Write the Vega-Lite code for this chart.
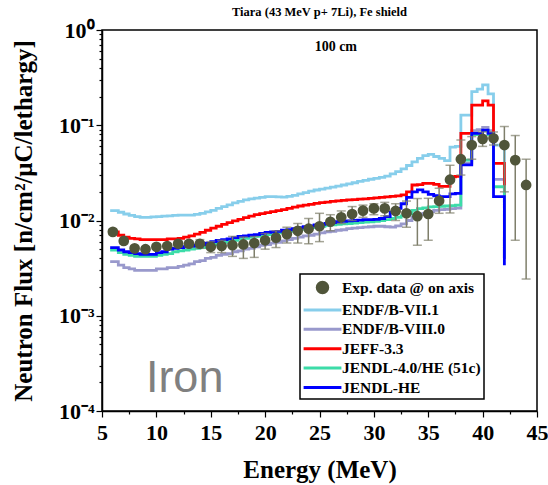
{
 "$schema": "https://vega.github.io/schema/vega-lite/v6.json",
 "width": 435, "height": 381,
 "autosize": {"type": "none"},
 "padding": {"left": 102, "top": 30, "right": 11, "bottom": 74},
 "background": "white",
 "title": {"text": "Tiara (43 MeV p+ 7Li), Fe shield", "font": "Liberation Serif", "fontSize": 12.5, "fontWeight": "bold", "color": "black", "anchor": "middle", "offset": 1},
 "config": {
  "view": {"stroke": "black", "strokeWidth": 1.5},
  "axis": {"domainColor": "black", "domainWidth": 1.5, "tickColor": "black", "tickWidth": 1.2, "labelFont": "Liberation Serif", "labelFontWeight": "bold", "labelFontSize": 22, "labelColor": "black", "titleFont": "Liberation Serif", "titleFontWeight": "bold", "titleFontSize": 25, "titleColor": "black", "grid": false}
 },
 "datasets": {
  "curves": [
   {"E":5.75,"lb":0.0127,"lv":0.0037,"rd":0.0076,"tl":0.0049,"bl":0.0052},
   {"E":6.5,"lb":0.0122,"lv":0.0034,"rd":0.0070,"tl":0.0046,"bl":0.0049},
   {"E":7,"lb":0.0117,"lv":0.0032,"rd":0.0067,"tl":0.0044,"bl":0.0047},
   {"E":7.5,"lb":0.0113,"lv":0.0031,"rd":0.0065,"tl":0.0043,"bl":0.0046},
   {"E":8,"lb":0.0110,"lv":0.0030,"rd":0.0064,"tl":0.0042,"bl":0.0045},
   {"E":8.5,"lb":0.0108,"lv":0.0030,"rd":0.0063,"tl":0.0042,"bl":0.0044},
   {"E":9,"lb":0.0108,"lv":0.0030,"rd":0.0063,"tl":0.0042,"bl":0.0044},
   {"E":9.5,"lb":0.0109,"lv":0.0030,"rd":0.0063,"tl":0.0042,"bl":0.0044},
   {"E":10,"lb":0.0110,"lv":0.0031,"rd":0.0063,"tl":0.0043,"bl":0.0046},
   {"E":10.5,"lb":0.0111,"lv":0.0031,"rd":0.0063,"tl":0.0044,"bl":0.0047},
   {"E":11,"lb":0.0112,"lv":0.0032,"rd":0.0064,"tl":0.0045,"bl":0.0050},
   {"E":11.5,"lb":0.0113,"lv":0.0032,"rd":0.0064,"tl":0.0047,"bl":0.0051},
   {"E":12,"lb":0.0114,"lv":0.0033,"rd":0.0065,"tl":0.0048,"bl":0.0052},
   {"E":12.5,"lb":0.0114,"lv":0.0034,"rd":0.0067,"tl":0.0049,"bl":0.0053},
   {"E":13,"lb":0.0114,"lv":0.0035,"rd":0.0069,"tl":0.0050,"bl":0.0054},
   {"E":13.5,"lb":0.0116,"lv":0.0037,"rd":0.0072,"tl":0.0051,"bl":0.0055},
   {"E":14,"lb":0.0119,"lv":0.0038,"rd":0.0075,"tl":0.0052,"bl":0.0056},
   {"E":14.5,"lb":0.0123,"lv":0.0040,"rd":0.0079,"tl":0.0054,"bl":0.0058},
   {"E":15,"lb":0.0128,"lv":0.0041,"rd":0.0083,"tl":0.0056,"bl":0.0060},
   {"E":15.5,"lb":0.0134,"lv":0.0043,"rd":0.0087,"tl":0.0058,"bl":0.0062},
   {"E":16,"lb":0.0140,"lv":0.0044,"rd":0.0091,"tl":0.0059,"bl":0.0063},
   {"E":16.5,"lb":0.0146,"lv":0.0045,"rd":0.0095,"tl":0.0061,"bl":0.0064},
   {"E":17,"lb":0.0153,"lv":0.0047,"rd":0.0099,"tl":0.0062,"bl":0.0066},
   {"E":17.5,"lb":0.0159,"lv":0.0048,"rd":0.0103,"tl":0.0064,"bl":0.0068},
   {"E":18,"lb":0.0165,"lv":0.0050,"rd":0.0107,"tl":0.0065,"bl":0.0069},
   {"E":18.5,"lb":0.0169,"lv":0.0051,"rd":0.0111,"tl":0.0067,"bl":0.0070},
   {"E":19,"lb":0.0172,"lv":0.0053,"rd":0.0115,"tl":0.0068,"bl":0.0071},
   {"E":19.5,"lb":0.0175,"lv":0.0055,"rd":0.0118,"tl":0.0070,"bl":0.0073},
   {"E":20,"lb":0.0178,"lv":0.0056,"rd":0.0121,"tl":0.0071,"bl":0.0075},
   {"E":20.5,"lb":0.0178,"lv":0.0058,"rd":0.0124,"tl":0.0072,"bl":0.0076},
   {"E":21,"lb":0.0177,"lv":0.0059,"rd":0.0127,"tl":0.0074,"bl":0.0077},
   {"E":21.5,"lb":0.0176,"lv":0.0061,"rd":0.0130,"tl":0.0075,"bl":0.0079},
   {"E":22,"lb":0.0179,"lv":0.0063,"rd":0.0134,"tl":0.0077,"bl":0.0080},
   {"E":22.5,"lb":0.0184,"lv":0.0065,"rd":0.0138,"tl":0.0079,"bl":0.0082},
   {"E":23,"lb":0.0190,"lv":0.0067,"rd":0.0142,"tl":0.0081,"bl":0.0084},
   {"E":23.5,"lb":0.0196,"lv":0.0069,"rd":0.0145,"tl":0.0083,"bl":0.0086},
   {"E":24,"lb":0.0203,"lv":0.0070,"rd":0.0148,"tl":0.0084,"bl":0.0088},
   {"E":24.5,"lb":0.0209,"lv":0.0072,"rd":0.0151,"tl":0.0086,"bl":0.0090},
   {"E":25,"lb":0.0214,"lv":0.0074,"rd":0.0154,"tl":0.0087,"bl":0.0091},
   {"E":25.5,"lb":0.0219,"lv":0.0076,"rd":0.0156,"tl":0.0089,"bl":0.0093},
   {"E":26,"lb":0.0224,"lv":0.0077,"rd":0.0159,"tl":0.0090,"bl":0.0095},
   {"E":26.5,"lb":0.0230,"lv":0.0079,"rd":0.0161,"tl":0.0091,"bl":0.0097},
   {"E":27,"lb":0.0236,"lv":0.0080,"rd":0.0163,"tl":0.0092,"bl":0.0098},
   {"E":27.5,"lb":0.0242,"lv":0.0082,"rd":0.0165,"tl":0.0093,"bl":0.0099},
   {"E":28,"lb":0.0249,"lv":0.0083,"rd":0.0166,"tl":0.0094,"bl":0.0100},
   {"E":28.5,"lb":0.0257,"lv":0.0084,"rd":0.0168,"tl":0.0095,"bl":0.0101},
   {"E":29,"lb":0.0264,"lv":0.0085,"rd":0.0169,"tl":0.0096,"bl":0.0102},
   {"E":29.5,"lb":0.0271,"lv":0.0086,"rd":0.0171,"tl":0.0097,"bl":0.0102},
   {"E":30,"lb":0.0277,"lv":0.0087,"rd":0.0173,"tl":0.0098,"bl":0.0103},
   {"E":30.5,"lb":0.0283,"lv":0.0087,"rd":0.0175,"tl":0.0100,"bl":0.0105},
   {"E":31,"lb":0.0292,"lv":0.0086,"rd":0.0177,"tl":0.0102,"bl":0.0110},
   {"E":31.5,"lb":0.0308,"lv":0.0085,"rd":0.0179,"tl":0.0105,"bl":0.0122},
   {"E":32,"lb":0.0326,"lv":0.0088,"rd":0.0181,"tl":0.0108,"bl":0.0134},
   {"E":32.5,"lb":0.0348,"lv":0.0092,"rd":0.0186,"tl":0.0112,"bl":0.0150},
   {"E":33,"lb":0.0378,"lv":0.0100,"rd":0.0200,"tl":0.0117,"bl":0.0175},
   {"E":33.5,"lb":0.0412,"lv":0.0108,"rd":0.0236,"tl":0.0128,"bl":0.0200},
   {"E":34,"lb":0.0448,"lv":0.0115,"rd":0.0238,"tl":0.0133,"bl":0.0210},
   {"E":34.5,"lb":0.0480,"lv":0.0119,"rd":0.0245,"tl":0.0136,"bl":0.0200},
   {"E":35,"lb":0.0495,"lv":0.0124,"rd":0.0245,"tl":0.0139,"bl":0.0188},
   {"E":35.5,"lb":0.0470,"lv":0.0128,"rd":0.0240,"tl":0.0140,"bl":0.0182},
   {"E":36,"lb":0.0450,"lv":0.0130,"rd":0.0228,"tl":0.0141,"bl":0.0178},
   {"E":36.5,"lb":0.0425,"lv":0.0131,"rd":0.0228,"tl":0.0142,"bl":0.0178},
   {"E":37,"lb":0.0590,"lv":0.0133,"rd":0.0288,"tl":0.0143,"bl":0.0190},
   {"E":37.5,"lb":0.0600,"lv":0.0135,"rd":0.0290,"tl":0.0145,"bl":0.0193},
   {"E":38,"lb":0.128,"lv":0.040,"rd":0.082,"tl":0.043,"bl":0.0383},
   {"E":38.5,"lb":0.128,"lv":0.040,"rd":0.082,"tl":0.043,"bl":0.0383},
   {"E":39,"lb":0.225,"lv":0.088,"rd":0.163,"tl":0.080,"bl":0.082},
   {"E":39.5,"lb":0.240,"lv":0.090,"rd":0.163,"tl":0.080,"bl":0.082},
   {"E":40,"lb":0.265,"lv":0.095,"rd":0.180,"tl":0.088,"bl":0.089},
   {"E":40.5,"lb":0.213,"lv":0.088,"rd":0.163,"tl":0.080,"bl":0.082},
   {"E":41,"lb":0.062,"lv":0.027,"rd":0.0398,"tl":0.0226,"bl":0.0178},
   {"E":41.5,"lb":0.062,"lv":0.027,"rd":0.0398,"tl":0.0226,"bl":0.0178},
   {"E":42,"lb":0.004,"lv":0.004,"rd":0.004,"tl":0.004,"bl":0.0034}
  ],
  "exp": [
   {"E":6,"flux":0.0076,"lo":0.0071,"hi":0.0081},
   {"E":7,"flux":0.0061,"lo":0.0057,"hi":0.0065},
   {"E":8,"flux":0.0051,"lo":0.0048,"hi":0.0054},
   {"E":9,"flux":0.0050,"lo":0.0047,"hi":0.0053},
   {"E":10,"flux":0.0053,"lo":0.0050,"hi":0.0056},
   {"E":11,"flux":0.0054,"lo":0.0051,"hi":0.0057},
   {"E":12,"flux":0.0057,"lo":0.0053,"hi":0.0061},
   {"E":13,"flux":0.0057,"lo":0.0053,"hi":0.0061},
   {"E":14,"flux":0.0057,"lo":0.0051,"hi":0.0063},
   {"E":15,"flux":0.0053,"lo":0.0046,"hi":0.0060},
   {"E":16,"flux":0.0054,"lo":0.0046,"hi":0.0062},
   {"E":17,"flux":0.0055,"lo":0.0042,"hi":0.0068},
   {"E":18,"flux":0.0056,"lo":0.0040,"hi":0.0067},
   {"E":19,"flux":0.0058,"lo":0.0041,"hi":0.0068},
   {"E":20,"flux":0.0062,"lo":0.0050,"hi":0.0073},
   {"E":21,"flux":0.0066,"lo":0.0052,"hi":0.0078},
   {"E":22,"flux":0.0072,"lo":0.0058,"hi":0.0085},
   {"E":23,"flux":0.0078,"lo":0.0058,"hi":0.0093},
   {"E":24,"flux":0.0082,"lo":0.0057,"hi":0.0105},
   {"E":25,"flux":0.0087,"lo":0.0060,"hi":0.0119},
   {"E":26,"flux":0.0097,"lo":0.0078,"hi":0.0115},
   {"E":27,"flux":0.0108,"lo":0.0093,"hi":0.0126},
   {"E":28,"flux":0.0117,"lo":0.0100,"hi":0.0140},
   {"E":29,"flux":0.0127,"lo":0.0108,"hi":0.0145},
   {"E":30,"flux":0.0134,"lo":0.0115,"hi":0.0150},
   {"E":31,"flux":0.0134,"lo":0.0112,"hi":0.0155},
   {"E":32,"flux":0.0126,"lo":0.0100,"hi":0.0150},
   {"E":33,"flux":0.0119,"lo":0.0085,"hi":0.0160},
   {"E":34,"flux":0.0111,"lo":0.0055,"hi":0.0170},
   {"E":35,"flux":0.0117,"lo":0.0062,"hi":0.0171},
   {"E":36,"flux":0.0161,"lo":0.0119,"hi":0.0218},
   {"E":37,"flux":0.0268,"lo":0.0120,"hi":0.0380},
   {"E":38,"flux":0.044,"lo":0.030,"hi":0.070},
   {"E":39,"flux":0.062,"lo":0.044,"hi":0.076},
   {"E":40,"flux":0.072,"lo":0.060,"hi":0.085},
   {"E":41,"flux":0.073,"lo":0.062,"hi":0.085},
   {"E":42,"flux":0.062,"lo":0.020,"hi":0.097},
   {"E":43,"flux":0.043,"lo":0.0062,"hi":0.078},
   {"E":44,"flux":0.0236,"lo":0.00243,"hi":0.044}
  ],
  "noteDist": [{"E":26.5,"flux":0.668,"note":"100 cm"}],
  "noteMat": [{"E":12.6,"flux":0.000158,"note":"Iron"}]
 },
 "encoding": {
  "x": {"field": "E", "type": "quantitative", "title": "Energy (MeV)",
   "scale": {"domain": [5, 45], "nice": false, "zero": false},
   "axis": {"values": [5, 7.5, 10, 12.5, 15, 17.5, 20, 22.5, 25, 27.5, 30, 32.5, 35, 37.5, 40, 42.5, 45],
    "labelExpr": "datum.value % 5 === 0 ? datum.label : ''",
    "tickSize": {"condition": {"test": "datum.value % 5 === 0", "value": 6}, "value": 3},
    "labelPadding": 5, "titlePadding": 14, "labelFlush": false}}
 },
 "layer": [
  {"data": {"name": "curves"}, "mark": {"type": "line", "interpolate": "step-after", "strokeWidth": 2.8},
   "encoding": {
    "y": {"field": "lb", "type": "quantitative", "title": "Neutron Flux [n/cm²/μC/lethargy]",
     "scale": {"type": "log", "domain": [0.0001, 1], "nice": false},
     "axis": {"values": [0.0001,0.0002,0.0003,0.0004,0.0005,0.0006,0.0007,0.0008,0.0009,0.001,0.002,0.003,0.004,0.005,0.006,0.007,0.008,0.009,0.01,0.02,0.03,0.04,0.05,0.06,0.07,0.08,0.09,0.1,0.2,0.3,0.4,0.5,0.6,0.7,0.8,0.9,1],
      "labelExpr": "datum.value === 1 ? '10⁰' : datum.value === 0.1 ? '10⁻¹' : datum.value === 0.01 ? '10⁻²' : datum.value === 0.001 ? '10⁻³' : datum.value === 0.0001 ? '10⁻⁴' : ''",
      "tickSize": {"condition": {"test": "datum.value === 1 || datum.value === 0.1 || datum.value === 0.01 || datum.value === 0.001 || datum.value === 0.0001", "value": 6}, "value": 3},
      "labelPadding": 2, "titlePadding": 22}},
    "color": {"datum": "ENDF/B-VII.1", "type": "nominal",
     "scale": {"domain": ["Exp. data @ on axis", "ENDF/B-VII.1", "ENDF/B-VIII.0", "JEFF-3.3", "JENDL-4.0/HE (51c)", "JENDL-HE"],
      "range": ["#50553a", "#87CEEB", "#9999CC", "#FF0000", "#3CDCA8", "#0000FF"]},
     "legend": {"title": null, "orient": "none", "legendX": 198, "legendY": 244,
      "strokeColor": "black", "fillColor": "white", "padding": 3,
      "labelFont": "Liberation Serif", "labelFontWeight": "bold", "labelFontSize": 15.5, "labelColor": "black",
      "labelLimit": 400, "labelOffset": 9,
      "symbolType": "circle", "symbolSize": 324, "symbolStrokeWidth": 3, "symbolOffset": 9, "rowPadding": 0.4,
      "encode": {
       "legend": {"update": {"strokeWidth": {"value": 1.5}}},
       "symbols": {"update": {
        "shape": {"signal": "datum.value === 'Exp. data @ on axis' ? 'circle' : 'M-2.1,0H2.1'"},
        "size": {"signal": "datum.value === 'Exp. data @ on axis' ? 110 : 324"},
        "fill": {"signal": "datum.value === 'Exp. data @ on axis' ? '#50553a' : 'transparent'"},
        "stroke": {"signal": "datum.value === 'Exp. data @ on axis' ? 'transparent' : scale('color', datum.value)"},
        "strokeWidth": {"value": 3},
        "opacity": {"value": 1}
       }}}}}
   }},
  {"data": {"name": "curves"}, "mark": {"type": "line", "interpolate": "step-after", "strokeWidth": 2.8},
   "encoding": {"y": {"field": "lv", "type": "quantitative", "title": "Neutron Flux [n/cm²/μC/lethargy]"}, "color": {"datum": "ENDF/B-VIII.0", "type": "nominal"}}},
  {"data": {"name": "curves"}, "mark": {"type": "line", "interpolate": "step-after", "strokeWidth": 2.8},
   "encoding": {"y": {"field": "rd", "type": "quantitative", "title": "Neutron Flux [n/cm²/μC/lethargy]"}, "color": {"datum": "JEFF-3.3", "type": "nominal"}}},
  {"data": {"name": "curves"}, "mark": {"type": "line", "interpolate": "step-after", "strokeWidth": 2.8},
   "encoding": {"y": {"field": "tl", "type": "quantitative", "title": "Neutron Flux [n/cm²/μC/lethargy]"}, "color": {"datum": "JENDL-4.0/HE (51c)", "type": "nominal"}}},
  {"data": {"name": "curves"}, "mark": {"type": "line", "interpolate": "step-after", "strokeWidth": 2.8},
   "encoding": {"y": {"field": "bl", "type": "quantitative", "title": "Neutron Flux [n/cm²/μC/lethargy]"}, "color": {"datum": "JENDL-HE", "type": "nominal"}}},
  {"data": {"name": "exp"}, "mark": {"type": "errorbar", "color": "#7f7f6b", "ticks": {"size": 9, "thickness": 1.5}, "rule": {"strokeWidth": 1.5}},
   "encoding": {"y": {"field": "lo", "type": "quantitative", "title": "Neutron Flux [n/cm²/μC/lethargy]"}, "y2": {"field": "hi"}}},
  {"data": {"name": "exp"}, "mark": {"type": "point", "filled": true, "size": 115, "opacity": 1},
   "encoding": {"y": {"field": "flux", "type": "quantitative", "title": "Neutron Flux [n/cm²/μC/lethargy]"}, "color": {"datum": "Exp. data @ on axis", "type": "nominal"}}},
  {"data": {"name": "noteDist"}, "mark": {"type": "text", "font": "Liberation Serif", "fontWeight": "bold", "fontSize": 14, "color": "black", "align": "center", "baseline": "middle"},
   "encoding": {"y": {"field": "flux", "type": "quantitative", "title": "Neutron Flux [n/cm²/μC/lethargy]"}, "text": {"field": "note"}}},
  {"data": {"name": "noteMat"}, "mark": {"type": "text", "font": "Liberation Sans", "fontSize": 45, "color": "#808080", "align": "center", "baseline": "alphabetic"},
   "encoding": {"y": {"field": "flux", "type": "quantitative", "title": "Neutron Flux [n/cm²/μC/lethargy]"}, "text": {"field": "note"}}}
 ]
}
